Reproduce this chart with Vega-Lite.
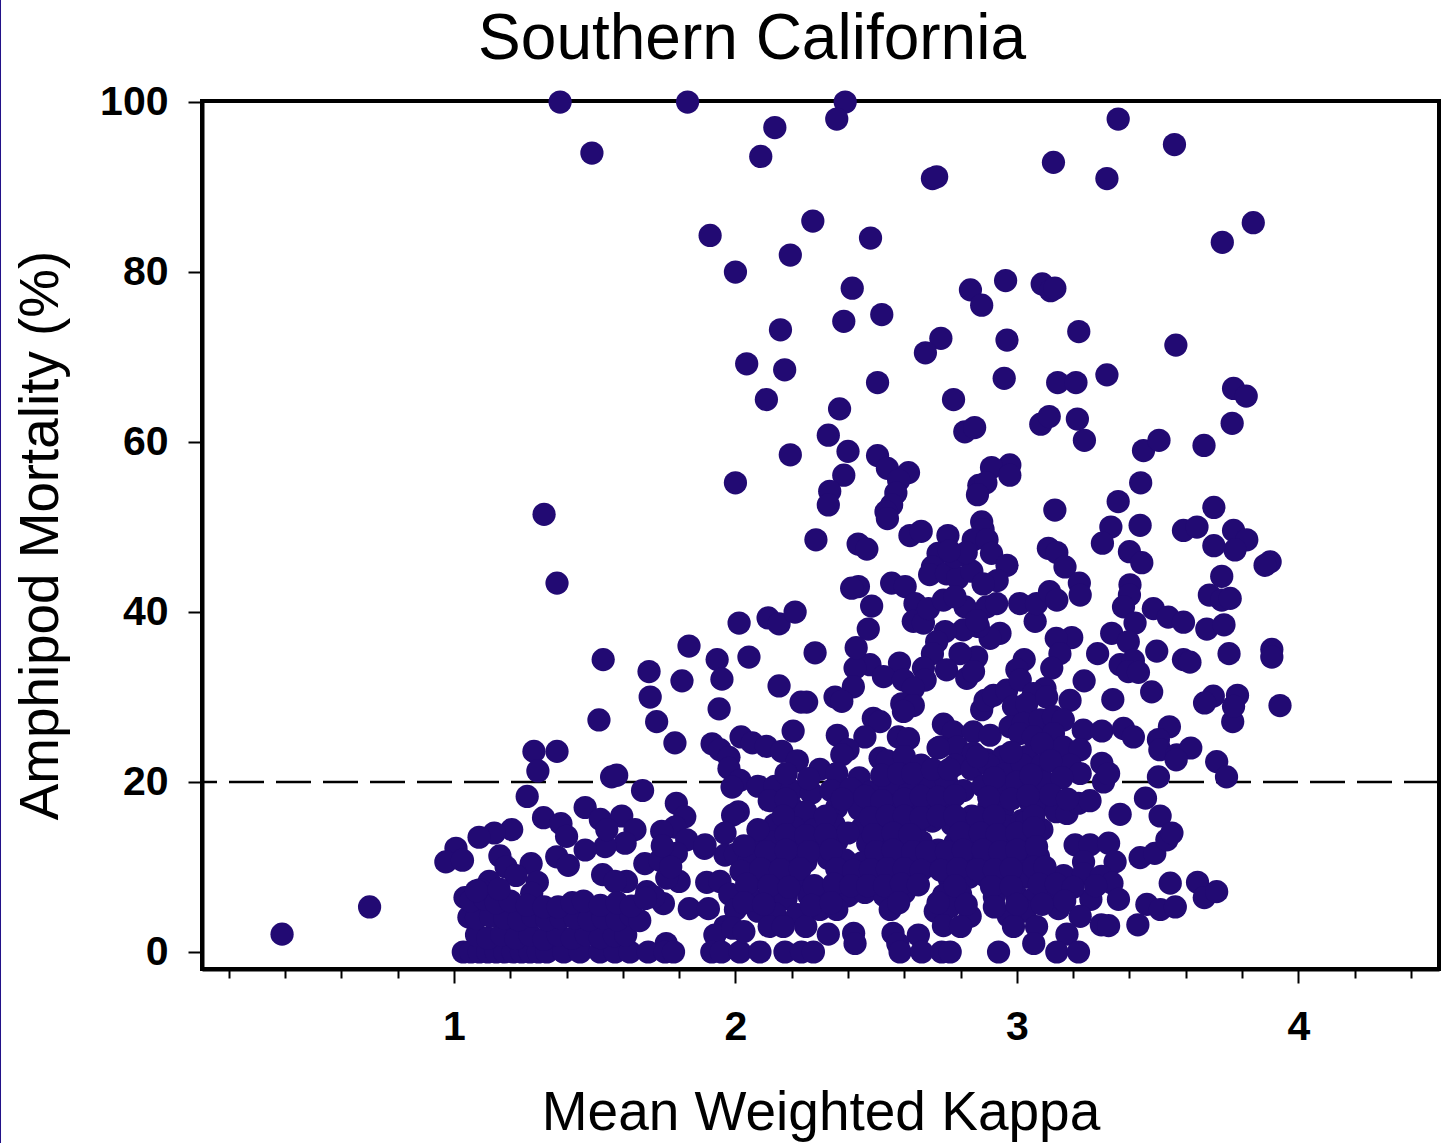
{"$schema":"https://vega.github.io/schema/vega-lite/v6.json","width":1237,"height":868,"autosize":"none","padding":{"left":202,"top":101,"right":2,"bottom":174},"background":"white",
"config":{"view":{"stroke":"black","strokeWidth":4}},
"layer":[
{"data":{"values":[{"k":-0.615,"m":-22.5,"m2":112.2}]},"mark":{"type":"rule","stroke":"#221188","strokeWidth":3,"clip":false},"encoding":{"x":{"field":"k","type":"quantitative"},"y":{"field":"m","type":"quantitative"},"y2":{"field":"m2"}}},
{"data":{"values":[{"k":2.059,"m":105.1,"label":"Southern California"}]},"mark":{"type":"text","font":"Liberation Sans","fontSize":64,"fontWeight":"normal","color":"black","align":"center","baseline":"alphabetic","clip":false},"encoding":{"x":{"field":"k","type":"quantitative"},"y":{"field":"m","type":"quantitative"},"text":{"field":"label"}}},
{"data":{"values":[{"m":20}]},"mark":{"type":"rule","stroke":"black","strokeWidth":2.5,"strokeDash":[35,12]},"encoding":{"y":{"field":"m","type":"quantitative"}}},
{"data":{"values":[
{"k":0.389,"m":2.1},{"k":0.7,"m":5.3},{"k":1.377,"m":100},{"k":1.83,"m":100},{"k":2.39,"m":100},{"k":2.36,"m":98},{"k":1.49,"m":94},{"k":2.14,"m":97},{"k":2.09,"m":93.6},{"k":2.7,"m":91},{"k":2.715,"m":91.2},{"k":3.13,"m":92.9},{"k":3.32,"m":91},{"k":3.36,"m":98},{"k":3.56,"m":95},{"k":1.91,"m":84.3},{"k":2.275,"m":86},{"k":2.48,"m":84},{"k":2.0,"m":80},{"k":2.195,"m":82},{"k":3.84,"m":85.8},{"k":3.73,"m":83.5},{"k":2.415,"m":78.1},{"k":2.835,"m":77.9},{"k":2.875,"m":76.1},{"k":2.96,"m":79},{"k":3.09,"m":78.6},{"k":3.12,"m":77.8},{"k":3.135,"m":78.1},{"k":2.385,"m":74.2},{"k":2.52,"m":75},{"k":2.16,"m":73.2},{"k":3.22,"m":73},{"k":2.73,"m":72.2},{"k":2.965,"m":72},{"k":3.565,"m":71.4},{"k":2.675,"m":70.5},{"k":2.04,"m":69.2},{"k":2.175,"m":68.5},{"k":2.505,"m":67},{"k":2.955,"m":67.5},{"k":3.145,"m":67},{"k":3.21,"m":67},{"k":3.32,"m":67.9},{"k":3.77,"m":66.3},{"k":3.815,"m":65.4},{"k":2.11,"m":65},{"k":2.37,"m":63.9},{"k":2.775,"m":65},{"k":2.815,"m":61.2},{"k":2.85,"m":61.7},{"k":3.085,"m":62.1},{"k":3.115,"m":63},{"k":3.215,"m":62.7},{"k":3.24,"m":60.2},{"k":2.33,"m":60.8},{"k":3.765,"m":62.2},{"k":3.665,"m":59.6},{"k":3.45,"m":59},{"k":3.505,"m":60.2},{"k":2.4,"m":58.9},{"k":2.195,"m":58.5},{"k":2.505,"m":58.4},{"k":2.54,"m":56.9},{"k":2.615,"m":56.4},{"k":2.975,"m":57.3},{"k":2.91,"m":57},{"k":2.975,"m":56.1},{"k":2.385,"m":56.1},{"k":2.0,"m":55.2},{"k":2.58,"m":55.5},{"k":3.44,"m":55.2},{"k":2.865,"m":54.9},{"k":2.89,"m":55.2},{"k":2.86,"m":53.8},{"k":2.57,"m":54},{"k":2.555,"m":52.6},{"k":2.335,"m":54.2},{"k":2.33,"m":52.6},{"k":3.36,"m":53},{"k":3.7,"m":52.3},{"k":2.535,"m":51.8},{"k":2.54,"m":51},{"k":3.135,"m":52},{"k":1.32,"m":51.5},{"k":2.875,"m":50.6},{"k":2.88,"m":49.7},
{"k":2.286,"m":48.5},{"k":2.436,"m":48},{"k":2.467,"m":47.4},{"k":2.62,"m":49},{"k":2.66,"m":49.5},{"k":2.755,"m":49},{"k":2.845,"m":48.5},{"k":2.894,"m":48.5},{"k":2.72,"m":46.9},{"k":2.91,"m":46.9},{"k":2.965,"m":45.5},{"k":2.7,"m":45.3},{"k":2.69,"m":44.4},{"k":2.75,"m":44.5},{"k":2.79,"m":44},{"k":2.84,"m":44.8},{"k":2.93,"m":43.7},{"k":2.88,"m":43.3},{"k":2.78,"m":46.5},{"k":2.82,"m":47},{"k":2.76,"m":47.2},
{"k":3.438,"m":50.2},{"k":3.334,"m":50},{"k":3.304,"m":48.1},{"k":3.592,"m":49.6},{"k":3.64,"m":50},{"k":3.77,"m":49.6},{"k":3.817,"m":48.5},{"k":3.775,"m":47.3},{"k":3.7,"m":47.8},{"k":3.9,"m":45.9},{"k":3.882,"m":45.5},{"k":3.4,"m":47.1},{"k":3.444,"m":45.8},{"k":3.112,"m":47.5},{"k":3.142,"m":47},{"k":3.171,"m":45.3},{"k":3.222,"m":43.4},{"k":3.225,"m":42},{"k":3.402,"m":43.2},{"k":3.4,"m":42},{"k":3.379,"m":40.6},{"k":3.42,"m":38.7},{"k":3.485,"m":40.4},{"k":3.538,"m":39.4},{"k":3.592,"m":38.8},{"k":3.728,"m":44.2},{"k":3.684,"m":42},{"k":3.728,"m":41.4},{"k":3.758,"m":41.6},{"k":3.675,"m":38},{"k":3.736,"m":38.5},{"k":3.337,"m":37.5},{"k":3.396,"m":36.5},{"k":3.497,"m":35.4},{"k":3.287,"m":35.1},{"k":3.592,"m":34.4},{"k":3.615,"m":34.1},{"k":3.754,"m":35.1},{"k":3.906,"m":35.6},{"k":3.906,"m":34.7},{"k":3.367,"m":33.8},{"k":3.414,"m":34.3},{"k":3.396,"m":33},{"k":3.432,"m":32.9},{"k":3.239,"m":31.9},{"k":3.479,"m":30.6},{"k":3.341,"m":29.7},{"k":3.698,"m":30.1},{"k":3.667,"m":29.3},{"k":3.784,"m":30.2},{"k":3.767,"m":27.1},{"k":3.77,"m":28.9},{"k":3.935,"m":29},{"k":3.189,"m":29.6},{"k":3.01,"m":41},{"k":3.065,"m":38.9},{"k":3.07,"m":41},{"k":3.116,"m":42.4},{"k":3.142,"m":41.4},{"k":3.195,"m":37},{"k":3.14,"m":36.9},{"k":3.153,"m":35.1},{"k":3.124,"m":33.4},{"k":3.026,"m":34.4},{"k":3.0,"m":33.2},{"k":3.1,"m":31},{"k":3.236,"m":26.1},{"k":3.302,"m":26},{"k":3.379,"m":26.3},{"k":3.414,"m":25.3},{"k":3.542,"m":26.5},{"k":3.503,"m":25},{"k":3.508,"m":23.8},{"k":3.568,"m":23.2},{"k":3.618,"m":24},{"k":3.71,"m":22.4},{"k":3.745,"m":20.6},
{"k":2.94,"m":37.5},{"k":2.905,"m":36.9},{"k":2.863,"m":38.3},{"k":2.81,"m":37.9},{"k":2.745,"m":37.7},{"k":2.715,"m":36.5},{"k":2.7,"m":35.1},{"k":2.857,"m":34.7},{"k":2.798,"m":35.1},{"k":2.75,"m":33.2},{"k":2.822,"m":32.2},{"k":2.846,"m":33},{"k":2.668,"m":33.4},{"k":2.674,"m":32},{"k":2.583,"m":34},{"k":2.478,"m":33.8},{"k":2.425,"m":33.4},{"k":2.419,"m":31.2},{"k":2.526,"m":32.4},{"k":2.597,"m":32},{"k":2.632,"m":31},{"k":2.472,"m":38},{"k":2.429,"m":35.8},{"k":2.484,"m":40.7},{"k":2.437,"m":43},{"k":2.413,"m":42.8},{"k":2.555,"m":43.4},{"k":2.603,"m":43},{"k":2.638,"m":41},{"k":2.632,"m":38.9},{"k":2.668,"m":38.7},{"k":2.686,"m":40.4},{"k":2.739,"m":41.4},{"k":2.816,"m":40.6},{"k":2.893,"m":40.6},{"k":2.928,"m":41},{"k":2.857,"m":39},{"k":2.78,"m":41.8},{"k":2.354,"m":30},{"k":2.378,"m":29.5},{"k":2.253,"m":29.4},{"k":2.233,"m":29.4},{"k":2.283,"m":35.2},{"k":2.591,"m":29.2},{"k":2.632,"m":29},{"k":2.597,"m":28.3},{"k":2.49,"m":27.5},{"k":2.514,"m":27.1},{"k":2.362,"m":25.5},{"k":2.46,"m":25.3},{"k":2.4,"m":23.8},{"k":2.378,"m":23.2},{"k":2.579,"m":25.3},{"k":2.615,"m":25.1},{"k":2.514,"m":22.8},{"k":2.739,"m":26.8},{"k":2.774,"m":25.9},{"k":2.845,"m":25.9},{"k":2.905,"m":25.5},{"k":2.875,"m":28.5},{"k":2.887,"m":29.6},{"k":2.917,"m":30.2},{"k":2.964,"m":30.8},{"k":3.012,"m":32},{"k":3.059,"m":30.4},{"k":2.988,"m":28.9},{"k":3.035,"m":29.2},{"k":3.106,"m":30},{"k":2.976,"m":26.5},{"k":3.023,"m":26.9},{"k":3.083,"m":27.3},{"k":3.13,"m":27.7},{"k":3.165,"m":27.3},{"k":3.01,"m":25.7},{"k":3.059,"m":25.3},{"k":3.13,"m":25.7},{"k":3.165,"m":24.1},{"k":3.225,"m":23.8},{"k":3.302,"m":22.2},{"k":2.727,"m":24.1},{"k":2.787,"m":24.1},{"k":2.846,"m":23.4},{"k":2.893,"m":22.6},{"k":2.952,"m":23},{"k":3.035,"m":23},{"k":3.09,"m":24.5},{"k":3.19,"m":22},
{"k":1.366,"m":43.4},{"k":1.53,"m":34.4},{"k":1.835,"m":36},{"k":1.693,"m":33},{"k":1.697,"m":30},{"k":1.81,"m":31.9},{"k":1.935,"m":34.4},{"k":1.952,"m":32.1},{"k":1.942,"m":28.6},{"k":1.515,"m":27.3},{"k":1.72,"m":27.1},{"k":1.785,"m":24.6},{"k":1.284,"m":23.6},{"k":1.366,"m":23.6},{"k":1.298,"m":21.3},{"k":2.013,"m":38.7},{"k":2.116,"m":39.3},{"k":2.155,"m":38.6},{"k":2.212,"m":40},{"k":2.048,"m":34.7},{"k":2.155,"m":31.3},{"k":2.205,"m":26},{"k":1.917,"m":24.5},{"k":1.945,"m":23.8},{"k":2.02,"m":25.3},{"k":2.06,"m":24.6},{"k":2.11,"m":24.2},{"k":2.165,"m":23.6},{"k":1.977,"m":22.9},{"k":1.977,"m":21.6},{"k":2.016,"m":20.2},{"k":1.988,"m":19.4},{"k":2.01,"m":16.5},{"k":1.99,"m":16.1},{"k":1.963,"m":14},{"k":1.963,"m":11.4},{"k":1.89,"m":12.2},
{"k":1.26,"m":18.3},{"k":1.56,"m":20.6},{"k":1.578,"m":20.8},{"k":1.67,"m":19},{"k":1.318,"m":15.8},{"k":1.38,"m":15.1},{"k":1.4,"m":13.6},{"k":1.205,"m":14.4},{"k":1.143,"m":14},{"k":1.089,"m":13.5},{"k":1.007,"m":12.2},{"k":0.971,"m":10.6},{"k":1.03,"m":10.8},{"k":1.466,"m":17},{"k":1.52,"m":15.6},{"k":1.596,"m":16},{"k":1.643,"m":14.4},{"k":1.608,"m":12.8},{"k":1.537,"m":12.4},{"k":1.543,"m":14.4},{"k":1.466,"m":12},{"k":1.365,"m":11.2},{"k":1.406,"m":10.2},{"k":1.163,"m":11.3},{"k":1.185,"m":10},{"k":1.274,"m":10.4},{"k":1.296,"m":8.2},{"k":1.276,"m":6.9},{"k":1.125,"m":8.3},{"k":1.092,"m":7.3},{"k":1.039,"m":6.4},{"k":1.053,"m":4.1},{"k":1.22,"m":9},{"k":1.79,"m":17.5},{"k":1.82,"m":15.9},{"k":1.785,"m":14.7},{"k":1.738,"m":14.2},{"k":1.827,"m":13.2},{"k":1.892,"m":12.6},{"k":1.79,"m":11.6},{"k":1.678,"m":10.4},{"k":1.732,"m":10.8},{"k":1.528,"m":9.1},{"k":1.613,"m":8.3},{"k":1.572,"m":8.3},{"k":1.8,"m":8.3},{"k":1.898,"m":8.2},{"k":1.945,"m":8.3},{"k":1.756,"m":8.7},{"k":1.685,"m":7.1},{"k":1.744,"m":5.7},{"k":1.836,"m":5.1},{"k":1.904,"m":5.1},{"k":1.963,"m":3},{"k":1.927,"m":2},{"k":1.754,"m":1},{"k":1.71,"m":6.5},{"k":1.77,"m":10},{"k":1.74,"m":12.5},
{"k":1.033,"m":0},{"k":1.06,"m":0},{"k":1.09,"m":0},{"k":1.12,"m":0},{"k":1.15,"m":0},{"k":1.18,"m":0},{"k":1.21,"m":0},{"k":1.24,"m":0},{"k":1.27,"m":0},{"k":1.3,"m":0},{"k":1.33,"m":0},{"k":1.39,"m":0},{"k":1.448,"m":0},{"k":1.519,"m":0},{"k":1.572,"m":0},{"k":1.625,"m":0},{"k":1.69,"m":0},{"k":1.75,"m":0},{"k":1.78,"m":0},{"k":1.916,"m":0},{"k":1.95,"m":0},{"k":2.016,"m":0},{"k":2.087,"m":0},{"k":2.176,"m":0},{"k":2.235,"m":0},{"k":2.277,"m":0},
{"k":1.08,"m":2},{"k":1.12,"m":1.6},{"k":1.17,"m":2},{"k":1.22,"m":1.6},{"k":1.27,"m":2},{"k":1.32,"m":1.5},{"k":1.37,"m":2},{"k":1.42,"m":1.6},{"k":1.47,"m":2},{"k":1.52,"m":1.7},{"k":1.57,"m":1.9},{"k":1.61,"m":2},{"k":1.08,"m":4},{"k":1.13,"m":4.2},{"k":1.18,"m":4},{"k":1.23,"m":3.8},{"k":1.28,"m":4.2},{"k":1.33,"m":3.8},{"k":1.38,"m":4},{"k":1.43,"m":4},{"k":1.48,"m":3.8},{"k":1.53,"m":4},{"k":1.58,"m":3.8},{"k":1.63,"m":4.3},{"k":1.66,"m":3.7},{"k":1.06,"m":6},{"k":1.11,"m":6.2},{"k":1.15,"m":5.8},{"k":1.2,"m":6},{"k":1.26,"m":5.5},{"k":1.32,"m":5.3},{"k":1.37,"m":5.3},{"k":1.42,"m":5.8},{"k":1.46,"m":6},{"k":1.52,"m":5.5},{"k":1.58,"m":5.8},{"k":1.63,"m":5.4},{"k":1.68,"m":6.3},{"k":1.08,"m":7.2},{"k":1.16,"m":7.4},
{"k":2.22,"m":22.5},{"k":2.3,"m":21.5},{"k":2.36,"m":21},{"k":2.44,"m":20.5},{"k":2.54,"m":22.5},{"k":2.6,"m":23},{"k":2.66,"m":22},{"k":2.72,"m":24},{"k":2.78,"m":22},{"k":2.84,"m":21.5},{"k":2.9,"m":22},{"k":2.96,"m":21},{"k":3.02,"m":22},{"k":3.09,"m":22},
{"k":2.08,"m":19.5},{"k":2.14,"m":19.5},{"k":2.2,"m":19},{"k":2.27,"m":18.7},{"k":2.34,"m":19},{"k":2.41,"m":19.2},{"k":2.48,"m":18.8},{"k":2.55,"m":19.5},{"k":2.62,"m":19},{"k":2.69,"m":19.5},{"k":2.75,"m":20},{"k":2.81,"m":19},{"k":2.88,"m":19.5},{"k":2.94,"m":19},{"k":3.0,"m":20},{"k":3.06,"m":19.5},{"k":3.1,"m":20},{"k":3.225,"m":21},{"k":3.308,"m":20},{"k":3.326,"m":21},{"k":3.503,"m":20.6},{"k":3.566,"m":22.6},
{"k":2.2,"m":17},{"k":2.25,"m":16.5},{"k":2.36,"m":17},{"k":2.44,"m":16.8},{"k":2.5,"m":17},{"k":2.56,"m":17.2},{"k":2.63,"m":16.7},{"k":2.69,"m":17},{"k":2.76,"m":17},{"k":2.84,"m":16},{"k":2.9,"m":17},{"k":2.95,"m":16.8},{"k":3.05,"m":17.5},{"k":3.1,"m":17.4},{"k":3.14,"m":16.5},{"k":3.178,"m":16.3},{"k":3.219,"m":17.5},{"k":3.26,"m":17.8},{"k":3.367,"m":16.2},{"k":3.457,"m":18.1},{"k":3.509,"m":16},
{"k":2.14,"m":15},{"k":2.21,"m":14.6},{"k":2.28,"m":14.4},{"k":2.35,"m":15},{"k":2.45,"m":14.6},{"k":2.52,"m":15},{"k":2.58,"m":15.3},{"k":2.64,"m":14.8},{"k":2.7,"m":15.4},{"k":2.77,"m":15},{"k":2.83,"m":14.6},{"k":2.89,"m":15},{"k":2.96,"m":14.8},{"k":3.02,"m":15.5},{"k":3.035,"m":15.3},{"k":3.089,"m":14.4},{"k":3.05,"m":13},
{"k":2.08,"m":12.8},{"k":2.14,"m":13},{"k":2.22,"m":12.7},{"k":2.29,"m":12.6},{"k":2.36,"m":13},{"k":2.47,"m":12.8},{"k":2.53,"m":13},{"k":2.6,"m":12.6},{"k":2.66,"m":13},{"k":2.72,"m":12},{"k":2.78,"m":12.8},{"k":2.85,"m":13},{"k":2.91,"m":12.7},{"k":2.98,"m":13},{"k":3.207,"m":12.6},{"k":3.26,"m":12.6},{"k":3.326,"m":12.8},{"k":3.438,"m":11.1},{"k":3.49,"m":11.6},{"k":3.533,"m":13.2},{"k":3.551,"m":14},
{"k":2.0,"m":11.5},{"k":2.05,"m":11},{"k":2.12,"m":10.8},{"k":2.18,"m":11},{"k":2.25,"m":10.6},{"k":2.33,"m":11},{"k":2.39,"m":10.8},{"k":2.45,"m":10.5},{"k":2.51,"m":10.8},{"k":2.57,"m":11},{"k":2.63,"m":10.7},{"k":2.69,"m":10.4},{"k":2.76,"m":10.8},{"k":2.82,"m":11},{"k":2.88,"m":10.5},{"k":2.95,"m":10.8},{"k":3.012,"m":10.8},{"k":3.077,"m":11.2},{"k":3.237,"m":10.6},{"k":3.349,"m":10.6},
{"k":2.08,"m":8.7},{"k":2.15,"m":8.5},{"k":2.22,"m":8.6},{"k":2.38,"m":8.6},{"k":2.44,"m":8.5},{"k":2.5,"m":8.7},{"k":2.56,"m":8.8},{"k":2.62,"m":8.9},{"k":2.76,"m":8.6},{"k":2.83,"m":8.8},{"k":2.89,"m":8.9},{"k":2.96,"m":8.2},{"k":3.04,"m":8.8},{"k":3.1,"m":9},{"k":3.166,"m":9},{"k":3.237,"m":9.2},{"k":3.3,"m":8.9},{"k":3.338,"m":8.1},{"k":3.545,"m":8.1},{"k":3.642,"m":8.2},{"k":3.666,"m":6.4},{"k":3.71,"m":7.1},{"k":3.361,"m":6.2},{"k":3.263,"m":6.2},
{"k":1.98,"m":6.8},{"k":2.05,"m":6.5},{"k":2.12,"m":6.6},{"k":2.18,"m":6.3},{"k":2.26,"m":6.7},{"k":2.33,"m":7},{"k":2.4,"m":6.6},{"k":2.46,"m":7},{"k":2.53,"m":6.6},{"k":2.6,"m":7},{"k":2.74,"m":6.7},{"k":2.8,"m":6.8},{"k":2.92,"m":6.5},{"k":3.0,"m":6.6},{"k":3.06,"m":6.3},{"k":3.12,"m":7},
{"k":2.0,"m":5},{"k":2.08,"m":4.8},{"k":2.14,"m":4.5},{"k":2.22,"m":4.4},{"k":2.3,"m":5},{"k":2.36,"m":5},{"k":2.55,"m":5},{"k":2.71,"m":4.8},{"k":2.76,"m":5.3},{"k":2.834,"m":4.2},{"k":2.97,"m":4.2},{"k":3.03,"m":4.8},{"k":3.148,"m":5.1},{"k":3.225,"m":4.2},{"k":3.462,"m":5.6},{"k":3.51,"m":5},{"k":3.563,"m":5.3},
{"k":1.99,"m":2.8},{"k":2.03,"m":2.4},{"k":2.12,"m":3},{"k":2.17,"m":3},{"k":2.25,"m":3},{"k":2.33,"m":2.1},{"k":2.42,"m":2.2},{"k":2.425,"m":1},{"k":2.56,"m":2.2},{"k":2.65,"m":2},{"k":2.739,"m":3.1},{"k":2.8,"m":3},{"k":2.988,"m":3},{"k":3.07,"m":3},{"k":3.06,"m":1},{"k":3.178,"m":2.1},{"k":3.3,"m":3.2},{"k":3.326,"m":3.1},{"k":3.43,"m":3.2},{"k":2.577,"m":1},
{"k":2.585,"m":0},{"k":2.662,"m":0},{"k":2.733,"m":0},{"k":2.763,"m":0},{"k":2.935,"m":0},{"k":3.142,"m":0},{"k":3.219,"m":0},
{"k":2.18,"m":21},{"k":2.26,"m":20.4},{"k":2.52,"m":20.8},{"k":2.58,"m":21},{"k":2.63,"m":21},{"k":2.7,"m":21.5},{"k":2.76,"m":21.5},{"k":2.86,"m":23},{"k":2.92,"m":20.5},{"k":2.98,"m":23.5},{"k":3.05,"m":20.8},{"k":3.12,"m":22.5},{"k":3.16,"m":20.5},
{"k":2.12,"m":17.8},{"k":2.18,"m":18},{"k":2.38,"m":18},{"k":2.46,"m":18.3},{"k":2.52,"m":17.8},{"k":2.6,"m":18},{"k":2.66,"m":18.3},{"k":2.72,"m":18.2},{"k":2.78,"m":18.4},{"k":2.9,"m":18.2},{"k":2.98,"m":18},{"k":3.04,"m":18.4},{"k":3.12,"m":18.5},{"k":3.18,"m":18},
{"k":2.17,"m":16},{"k":2.32,"m":16},{"k":2.4,"m":14},{"k":2.48,"m":15.8},{"k":2.54,"m":16},{"k":2.6,"m":16},{"k":2.66,"m":15.8},{"k":2.72,"m":16},{"k":2.78,"m":16},{"k":2.86,"m":15.8},{"k":2.92,"m":16},{"k":3.06,"m":16},
{"k":2.08,"m":14.4},{"k":2.18,"m":13.8},{"k":2.25,"m":13.7},{"k":2.32,"m":13.8},{"k":2.49,"m":13.8},{"k":2.56,"m":14},{"k":2.62,"m":13.8},{"k":2.8,"m":14},{"k":2.87,"m":14},{"k":2.93,"m":13.8},{"k":3.0,"m":14},{"k":3.06,"m":14.6},
{"k":2.03,"m":12.5},{"k":2.11,"m":11.8},{"k":2.18,"m":12},{"k":2.26,"m":11.8},{"k":2.34,"m":12},{"k":2.5,"m":11.8},{"k":2.56,"m":12},{"k":2.63,"m":11.8},{"k":2.68,"m":11.8},{"k":2.75,"m":11.8},{"k":2.81,"m":12},{"k":2.88,"m":12},{"k":2.94,"m":11.8},{"k":3.0,"m":12},{"k":3.07,"m":12.4},
{"k":2.02,"m":9.5},{"k":2.09,"m":9.8},{"k":2.16,"m":9.7},{"k":2.23,"m":9.8},{"k":2.36,"m":9.8},{"k":2.42,"m":9.6},{"k":2.48,"m":9.7},{"k":2.54,"m":9.8},{"k":2.6,"m":9.8},{"k":2.66,"m":9.6},{"k":2.73,"m":9.6},{"k":2.79,"m":9.8},{"k":2.86,"m":9.7},{"k":2.92,"m":9.7},{"k":2.98,"m":9.8},{"k":3.06,"m":10},{"k":3.1,"m":10},
{"k":2.04,"m":8},{"k":2.12,"m":7.8},{"k":2.19,"m":7.6},{"k":2.28,"m":7.8},{"k":2.35,"m":8},{"k":2.41,"m":7.8},{"k":2.47,"m":7.8},{"k":2.53,"m":7.8},{"k":2.59,"m":8},{"k":2.65,"m":7.9},{"k":2.78,"m":7.8},{"k":2.91,"m":7.7},{"k":2.98,"m":7.7},{"k":3.08,"m":8},{"k":3.14,"m":8},{"k":3.2,"m":7.6},{"k":3.28,"m":7.8},
{"k":2.03,"m":5.8},{"k":2.1,"m":5.6},{"k":2.27,"m":5.5},{"k":2.34,"m":5.8},{"k":2.58,"m":5.8},{"k":2.72,"m":5.8},{"k":2.82,"m":5.6},{"k":2.92,"m":5.3},{"k":3.0,"m":5.6},{"k":3.09,"m":5.6},{"k":3.17,"m":6}
]},"mark":{"type":"circle","size":540,"color":"#220a73","opacity":1,"clip":false},"encoding":{
"x":{"field":"k","type":"quantitative","title":"Mean Weighted Kappa","scale":{"domain":[0.1045,4.5],"nice":false,"zero":false},
"axis":{"values":[0.2,0.4,0.6,0.8,1,1.2,1.4,1.6,1.8,2,2.2,2.4,2.6,2.8,3,3.2,3.4,3.6,3.8,4,4.2,4.4],"grid":false,"domainColor":"black","domainWidth":4,"tickColor":"black","tickWidth":2,"tickSize":{"condition":{"test":"indexof([1,2,3,4],datum.value)>=0","value":14},"value":9},"labelExpr":"indexof([1,2,3,4],datum.value)>=0 ? ''+datum.value : ''","labelOverlap":false,"labelFont":"Liberation Sans","labelFontWeight":"bold","labelFontSize":41,"labelColor":"black","labelPadding":24,"labelBaseline":"top","titleFont":"Liberation Sans","titleFontWeight":"normal","titleFontSize":55,"titleColor":"black","titlePadding":39}},
"y":{"field":"m","type":"quantitative","title":"Amphipod Mortality (%)","scale":{"domain":[-2,100.12],"nice":false,"zero":false},
"axis":{"values":[0,20,40,60,80,100],"grid":false,"domainColor":"black","domainWidth":4,"tickColor":"black","tickWidth":2,"tickSize":14,"labelFont":"Liberation Sans","labelFontWeight":"bold","labelFontSize":41,"labelColor":"black","labelPadding":20,"titleFont":"Liberation Sans","titleFontWeight":"normal","titleFontSize":54.8,"titleColor":"black","titlePadding":30}}}}
]}
